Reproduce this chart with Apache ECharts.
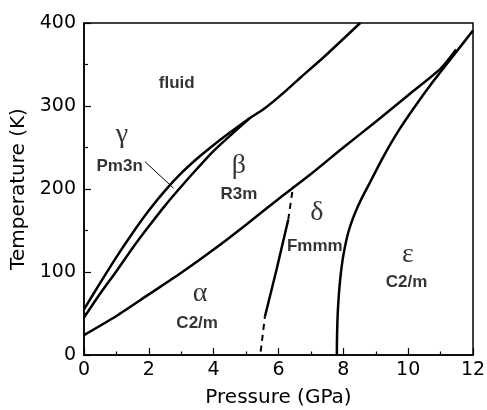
<!DOCTYPE html>
<html>
<head>
<meta charset="utf-8">
<script src="https://cdn.jsdelivr.net/npm/echarts@6/dist/echarts.min.js"></script>
<style>html,body{margin:0;padding:0;background:#fff;}#c{width:487px;height:410px;}</style>
</head>
<body>
<div id="c"></div>
<script>
// Phase boundaries, [pressure GPa, temperature K]
const meltingCurve = [[0,55],[0.5,87],[1,118],[1.5,147],[2,174],[2.5,198],[3,219],[3.5,237],[4,253],[4.5,268],[5.1,285],[5.6,298],[6.1,314],[6.7,335],[7.4,359],[8.52,400]];
const gammaBetaBoundary = [[0,45],[0.5,74],[1,101],[1.5,129],[2,155],[2.5,180],[3,203],[3.5,225],[4,246],[4.5,264],[5.1,285]];
const alphaBetaBoundary = [[0,24],[1,47],[2,73],[3,99],[4,127],[5,157],[6,188],[7,218],[8,250],[9,281],[10,313],[11,345],[11.48,368]];
const alphaDeltaSolid = [[5.58,46],[5.94,103],[6.3,163]];
const alphaDeltaDashLow = [[5.45,4],[5.58,46]];
const alphaDeltaDashHigh = [[6.3,163],[6.45,203]];
const epsilonBoundary = [[7.8,0],[7.81,30],[7.84,60],[7.9,90],[8.0,120],[8.17,150],[8.46,180],[8.85,210],[9.25,240],[9.7,270],[10.22,300],[10.78,330],[11.38,360],[12,391]];
const pm3nPointer = [[1.88,233],[2.76,201]];

// Region labels, [pressure, temperature, text]
const greekLabels = [[1.17,265,'γ'],[4.78,228,'β'],[3.58,74,'α'],[7.18,172,'δ'],[9.99,121,'ε']];
const structureLabels = [[2.86,327,'fluid'],[1.10,227,'Pm3n'],[4.78,194,'R3m'],[3.49,38,'C2/m'],[7.12,131,'Fmmm'],[9.95,87,'C2/m']];

// Axes
const xTicks = {min:0, max:12, interval:2};
const yTicks = {min:0, max:400, interval:100};

const chart = echarts.init(document.getElementById('c'), null, {renderer:'canvas'});

function curve(data, opts) {
  return Object.assign({
    type:'line', data:data, symbol:'none', smooth:0.25, silent:true,
    lineStyle:{color:'#000', width:2.5}, z:3
  }, opts || {});
}

function labelSeries(data, font) {
  return {
    type:'scatter', data:data, symbolSize:0, silent:true, z:5,
    label:{show:true, position:'inside', formatter:p=>p.data[2], color:'#000',
      fontFamily:font.family, fontSize:font.size, fontWeight:font.weight}
  };
}

chart.setOption({
  animation:false,
  backgroundColor:'#fff',
  grid:{left:84, right:14, top:23, bottom:55, containLabel:false, outerBoundsMode:'none',
    show:true, borderColor:'#000', borderWidth:1.5, backgroundColor:'transparent'},
  xAxis:{
    type:'value', min:xTicks.min, max:xTicks.max, interval:xTicks.interval,
    name:'Pressure (GPa)', nameLocation:'middle', nameGap:33,
    nameTextStyle:{fontFamily:'DejaVu Sans', fontSize:20, color:'#000'},
    axisLine:{show:true, onZero:false, lineStyle:{color:'#000', width:1.5}},
    axisTick:{show:true, inside:true, length:7, lineStyle:{color:'#000', width:1.2}},
    minorTick:{show:true, splitNumber:2, length:3.5, lineStyle:{color:'#000', width:1.2}},
    axisLabel:{fontFamily:'DejaVu Sans', fontSize:19, color:'#000', margin:6},
    splitLine:{show:false}, minorSplitLine:{show:false}
  },
  yAxis:{
    type:'value', min:yTicks.min, max:yTicks.max, interval:yTicks.interval,
    name:'Temperature (K)', nameLocation:'middle', nameGap:46,
    nameTextStyle:{fontFamily:'DejaVu Sans', fontSize:20, color:'#000'},
    axisLine:{show:true, onZero:false, lineStyle:{color:'#000', width:1.5}},
    axisTick:{show:true, inside:true, length:7, lineStyle:{color:'#000', width:1.2}},
    minorTick:{show:true, splitNumber:2, length:4, lineStyle:{color:'#000', width:1.2}},
    axisLabel:{fontFamily:'DejaVu Sans', fontSize:19, color:'#000', margin:8},
    splitLine:{show:false}, minorSplitLine:{show:false}
  },
  series:[
    curve(meltingCurve),
    curve(gammaBetaBoundary),
    curve(alphaBetaBoundary),
    curve(epsilonBoundary, {smooth:0.35}),
    curve(alphaDeltaSolid, {smooth:false}),
    curve(alphaDeltaDashLow, {smooth:false, lineStyle:{color:'#000', width:2, type:[6,5]}}),
    curve(alphaDeltaDashHigh, {smooth:false, lineStyle:{color:'#000', width:2, type:[6,5]}}),
    curve(pm3nPointer, {smooth:false, lineStyle:{color:'#000', width:1}}),
    labelSeries(greekLabels, {family:'Liberation Serif', size:28, weight:'normal'}),
    labelSeries(structureLabels, {family:'Liberation Sans', size:17, weight:'bold'})
  ]
});
</script>
</body>
</html>
